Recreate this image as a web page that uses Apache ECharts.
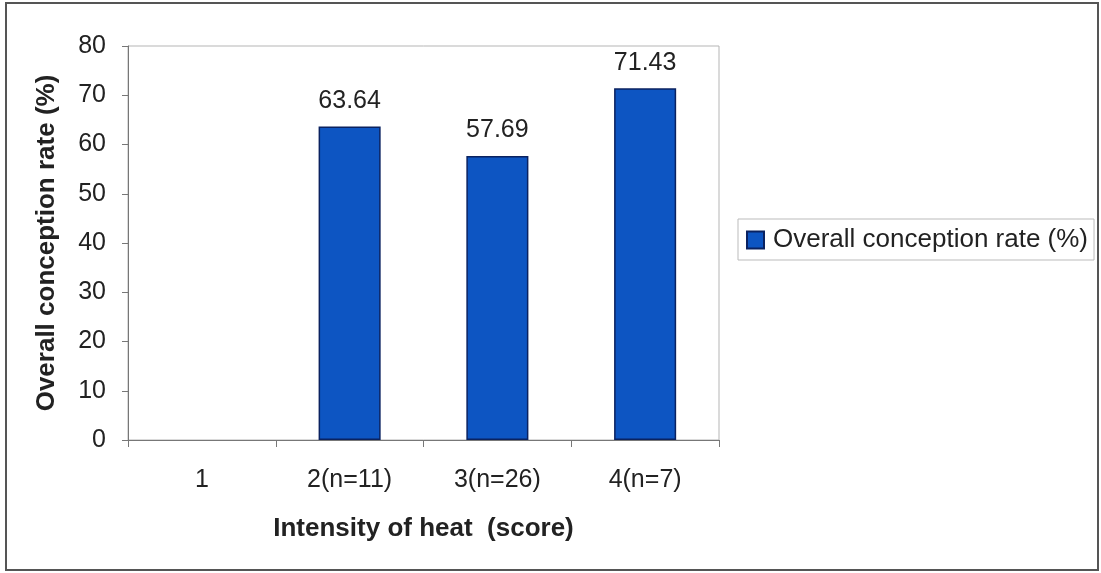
<!DOCTYPE html>
<html>
<head>
<meta charset="utf-8">
<script src="https://cdn.jsdelivr.net/npm/echarts@6/dist/echarts.min.js"></script>
<style>
html,body{margin:0;padding:0;background:#fff;}
#chart{width:1101px;height:573px;}
</style>
</head>
<body>
<div id="chart"></div>
<script>
const categories = ['1', '2(n=11)', '3(n=26)', '4(n=7)'];
const conceptionRate = [null, 63.64, 57.69, 71.43];
const seriesName = 'Overall conception rate (%)';
const yAxisTitle = 'Overall conception rate (%)';
const xAxisTitle = 'Intensity of heat  (score)';

const chart = echarts.init(document.getElementById('chart'));
const font = 'Liberation Sans, Arial, sans-serif';
chart.setOption({
  animation: false,
  backgroundColor: '#fff',
  textStyle: { fontFamily: font },
  graphic: [{
    type: 'rect', shape: { x: 6, y: 3, width: 1092, height: 567 },
    style: { fill: 'none', stroke: '#555', lineWidth: 2 }, silent: true, z: -10
  }],
  grid: { left: 128, right: 382, top: 46, bottom: 133, show: true, borderColor: '#b5b5b5', borderWidth: 1, backgroundColor: '#fff' },
  legend: {
    show: true, left: 738, top: 219, orient: 'vertical',
    padding: [8, 6, 7, 8],
    borderColor: '#bbb', borderWidth: 1,
    itemWidth: 17, itemHeight: 17, itemGap: 6,
    icon: 'rect',
    textStyle: { fontSize: 26, color: '#222', fontFamily: font, padding: [0, 0, 0, 4] },
    data: [seriesName]
  },
  xAxis: {
    type: 'category', data: categories,
    name: xAxisTitle, nameLocation: 'middle', nameGap: 76,
    nameTextStyle: { fontSize: 26, fontWeight: 'bold', color: '#222', fontFamily: font },
    axisLine: { lineStyle: { color: '#777', width: 1 } },
    axisTick: { show: true, alignWithLabel: false, length: 7, lineStyle: { color: '#777' } },
    axisLabel: { fontSize: 25, color: '#222', margin: 28, fontFamily: font }
  },
  yAxis: {
    type: 'value', min: 0, max: 80, interval: 10,
    name: yAxisTitle, nameLocation: 'middle', nameGap: 68,
    nameTextStyle: { fontSize: 26, fontWeight: 'bold', color: '#222', fontFamily: font },
    axisLine: { show: true, lineStyle: { color: '#777', width: 1 } },
    axisTick: { show: true, length: 6, lineStyle: { color: '#777' } },
    splitLine: { show: false },
    axisLabel: { fontSize: 25, color: '#222', margin: 22, fontFamily: font }
  },
  series: [{
    name: seriesName, type: 'bar', data: conceptionRate,
    barWidth: '42%',
    itemStyle: { color: '#0d55c2', borderColor: '#0a2260', borderWidth: 1.5 },
    label: { show: true, position: 'top', distance: 13, fontSize: 25, color: '#222', fontFamily: font,
      formatter: p => p.value.toFixed(2) }
  }]
});
</script>
</body>
</html>
